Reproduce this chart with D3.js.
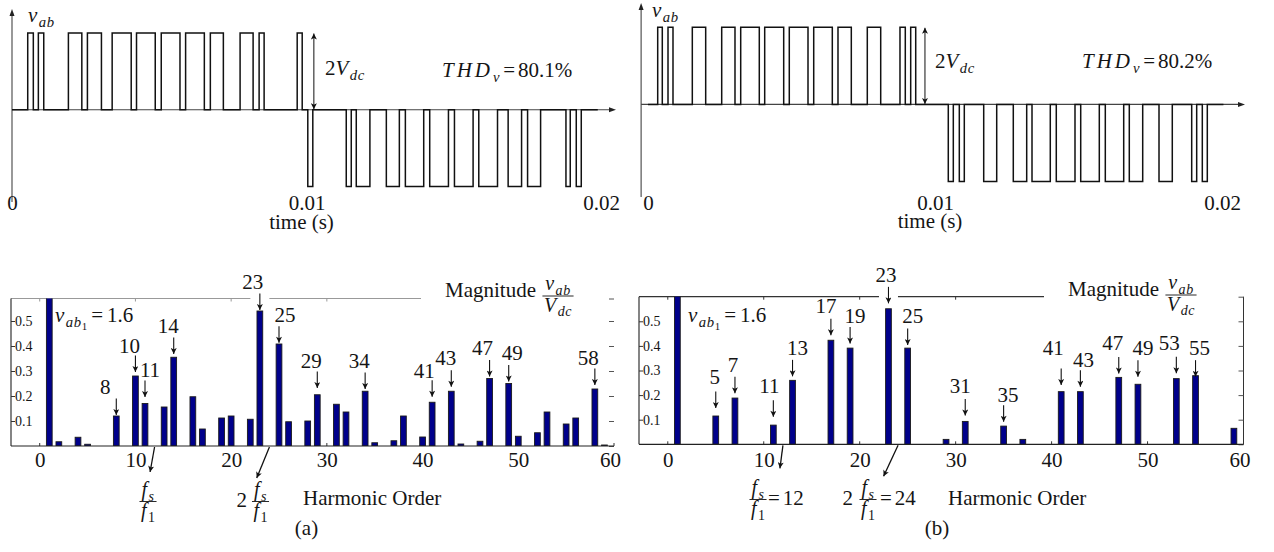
<!DOCTYPE html>
<html>
<head>
<meta charset="utf-8">
<script src="https://d3js.org/d3.v7.min.js"></script>
<style>
  body { margin: 0; background: #fff; }
  svg { display: block; }
</style>
</head>
<body>
<svg width="1274" height="552"></svg>
<script>
// ---- waveform pulses, edges in ms ----
const posA = [[0.534,0.724],[0.895,1.078],[1.915,2.371],[2.561,3.037],[3.401,4.048],[4.228,4.864],
              [5.068,5.704],[5.895,6.531],[6.735,7.177],[7.745,8.187],[8.391,8.561],[9.684,9.854]];
const negA = [[10.044,10.214],[11.350,11.520],[11.690,12.153],[12.711,13.153],[13.357,13.980],[14.184,14.820],
              [15.024,15.657],[15.850,16.486],[16.847,17.303],[17.507,17.949],[18.810,18.956],[19.160,19.330]];
const posB = [[0.338,0.498],[0.697,0.871],[1.544,2.010],[2.568,3.031],[3.230,3.878],[4.066,4.728],
              [4.923,5.575],[5.774,6.422],[6.620,7.084],[7.641,8.108],[8.780,8.965],[9.153,9.328]];
const negB = [[10.463,10.638],[10.847,11.021],[11.697,12.150],[12.728,13.195],[13.380,14.017],[14.226,14.878],
              [15.077,15.725],[15.934,16.575],[16.770,17.237],[17.805,18.268],[18.944,19.118],[19.314,19.488]];
const timeTicks = [0, 0.01, 0.02];

// ---- harmonic spectra ----
const ordA = [1,2,4,5,8,10,11,13,14,16,17,19,20,22,23,25,26,28,29,31,32,34,35,37,38,40,41,43,44,46,47,49,50,52,53,55,56,58,59];
const magA = [1.6,0.017,0.035,0.007,0.12,0.28,0.17,0.156,0.355,0.197,0.068,0.112,0.12,0.107,0.54,0.408,0.097,0.1,0.205,0.167,
              0.136,0.219,0.013,0.021,0.12,0.036,0.175,0.219,0.008,0.019,0.27,0.25,0.039,0.053,0.136,0.088,0.112,0.228,0.004];
const ordB = [1,5,7,11,13,17,19,23,25,29,31,35,37,41,43,47,49,53,55,59];
const magB = [1.6,0.115,0.188,0.078,0.26,0.423,0.391,0.551,0.391,0.02,0.093,0.074,0.02,0.214,0.214,0.272,0.244,0.267,0.279,0.065];
const annA = [8,10,11,14,23,25,29,34,41,43,47,49,58];
const annB = [5,7,11,13,17,19,23,25,31,35,41,43,47,49,53,55];
const yTicks = [0.1,0.2,0.3,0.4,0.5];
const xTicks = [0,10,20,30,40,50,60];

// label nudges [dx, gap above bar, lift above arrow]
const nudgeA = {8:[-11,1,5],10:[-6,4,2.5],11:[5,6.5,3.3],14:[-5.5,3.3,4.2],23:[-7,1,5],25:[6,1.3,4.5],29:[-6,6.7,3.5],
                34:[-6,2.3,4.5],41:[-8,5.6,2.2],43:[-5.5,4.6,5.2],47:[-7,2,5.2],49:[3.5,2,5.2],58:[-6.5,4,3.5]};
const nudgeB = {5:[-1,8,8],7:[-2,4.7,5],11:[-4,8.3,7],13:[5,4,4.5],17:[-5,5,5.5],19:[5,4.7,3.8],23:[-2.5,5.4,5],
                25:[5,3,5.5],31:[-5,6,5.5],35:[4.5,4.3,3.5],41:[-8,6.7,13],43:[3,5,3.5],47:[-6,4,6.8],49:[5,7.6,5.2],
                53:[-7,5.4,6.8],55:[4,-1,5.2]};

const SERIF = '"Liberation Serif", serif';
const svg = d3.select('svg').style('font-family', SERIF);
const defs = svg.append('defs');
defs.append('marker').attr('id','ah').attr('viewBox','0 0 10 10').attr('refX',10).attr('refY',5)
  .attr('markerWidth',7).attr('markerHeight',6).attr('markerUnits','userSpaceOnUse')
  .attr('orient','auto-start-reverse')
  .append('path').attr('d','M0,0 L10,5 L0,10 L2.5,5 z').attr('fill','#111');

// text with sub/subsub scripts: parts = [text, italic, level, gap before]
function mtext(p, x, y, parts, size, anchor, spacing) {
  const t = p.append('text').attr('x', x).attr('y', y)
    .style('font-family', SERIF).style('font-size', size + 'px').attr('fill', '#151515')
    .attr('text-anchor', anchor || 'start');
  let cur = 0;
  parts.forEach(([s, it, lv, gap]) => {
    lv = lv || 0;
    const sh = [0, 0.24, 0.4][lv] * size;
    t.append('tspan').text(s).attr('dy', sh - cur).attr('dx', gap || 0)
      .style('font-size', [1, 0.7, 0.52][lv] * size + 'px')
      .style('font-style', it ? 'italic' : 'normal')
      .attr('letter-spacing', it ? (lv === 0 ? (spacing || 1.5) : 0.6) : 0);
    cur = sh;
  });
  return t;
}

function label(p, x, y, s, anchor) {
  return p.append('text').attr('x', x).attr('y', y).style('font-size', '21px').style('font-family', SERIF)
    .attr('fill', '#151515').attr('text-anchor', anchor || 'start').text(s);
}

function frac(p, cx, yl, num, den, size) {
  const a = mtext(p, cx, yl - 0.28 * size, num, size, 'middle');
  const b = mtext(p, cx, yl + 0.78 * size, den, size, 'middle');
  const w = Math.max(a.node().getComputedTextLength(), b.node().getComputedTextLength()) + 3;
  p.append('line').attr('x1', cx - w / 2).attr('x2', cx + w / 2).attr('y1', yl).attr('y2', yl)
    .attr('stroke', '#111').attr('stroke-width', 0.9);
}

function styleAxis(a, size) {
  a.select('.domain').remove();
  a.attr('font-family', null).attr('font-size', null);
  a.selectAll('text').style('font-family', SERIF).style('font-size', size + 'px').attr('fill', '#151515');
}

function wavePanel(c) {
  const x = d3.scaleLinear().domain([0, 0.02]).range(c.xr);
  const y = d3.scaleLinear().domain([-1, 1]).range(c.yr);
  const g = svg.append('g');
  const ax = x(c.axisT), y0 = y(0);

  g.append('line').attr('x1', ax).attr('x2', ax).attr('y1', c.axBottom).attr('y2', c.axTop + 5)
    .attr('stroke', '#444').attr('stroke-width', 1.1);
  g.append('path').attr('d', `M${ax-2.5},${c.axTop+7}L${ax},${c.axTop}L${ax+2.5},${c.axTop+7}Z`).attr('fill', '#222');
  g.append('line').attr('x1', ax).attr('x2', c.axRight - 5).attr('y1', y0).attr('y2', y0)
    .attr('stroke', '#444').attr('stroke-width', 1.1);
  g.append('path').attr('d', `M${c.axRight-7},${y0-2.5}L${c.axRight},${y0}L${c.axRight-7},${y0+2.5}Z`).attr('fill', '#222');

  const pts = [[0, 0]];
  c.pos.forEach(([a, b]) => pts.push([a, 0], [a, 1], [b, 1], [b, 0]));
  c.neg.forEach(([a, b]) => pts.push([a, 0], [a, -1], [b, -1], [b, 0]));
  pts.push([c.tEnd, 0]);
  const line = d3.line().x(d => x(d[0] / 1000)).y(d => y(d[1]));
  g.append('path').attr('d', line(pts)).attr('fill', 'none').attr('stroke', '#111')
    .attr('stroke-width', 1.5).attr('stroke-linejoin', 'miter');

  const ta = g.append('g').attr('transform', `translate(0,${c.tickY})`)
    .call(d3.axisBottom(x).tickValues(timeTicks).tickSize(0).tickPadding(0).tickFormat(d => String(d)));
  styleAxis(ta, 21);
  ta.selectAll('text').attr('dy', 0);
  label(g, x(0.01) - 5, c.timeY, 'time (s)', 'middle');

  mtext(g, c.vab[0], c.vab[1], [['v', true], ['ab', true, 1]], 21);
  const xa = x(c.arrowT / 1000);
  g.append('line').attr('x1', xa).attr('x2', xa).attr('y1', y(1) + 0.5).attr('y2', y0 - 0.5)
    .attr('stroke', '#111').attr('stroke-width', 1)
    .attr('marker-start', 'url(#ah)').attr('marker-end', 'url(#ah)');
  mtext(g, c.vdc[0], c.vdc[1], [['2', false], ['V', true], ['dc', true, 1]], 21);
  mtext(g, c.thd[0], c.thd[1],
    [['THD', true], ['v', true, 1], ['=', false, 0, 3], [c.thd[2], false, 0, 3]], 21, 'start', 3);
}

function specPanel(c) {
  const x = d3.scaleLinear().domain([-3, 60]).range(c.xr);
  const y = d3.scaleLinear().domain([0, c.ymax]).range(c.yr);
  const g = svg.append('g');
  const x0 = c.xr[0], x1 = c.xr[1], yb = c.yr[0], yt = c.yr[1];
  const mag = {};
  c.ord.forEach((h, i) => mag[h] = c.mag[i]);

  g.append('clipPath').attr('id', c.id).append('rect')
    .attr('x', x0).attr('y', yt).attr('width', x1 - x0).attr('height', yb - yt);

  // frame
  const topEnd = c.magX - 24;
  g.append('line').attr('x1', x0).attr('x2', topEnd).attr('y1', yt).attr('y2', yt)
    .attr('stroke', c.topColor).attr('stroke-width', 1.2);
  g.selectAll('.tt').data(xTicks.filter(v => x(v) < topEnd)).join('line')
    .attr('x1', d => x(d)).attr('x2', d => x(d)).attr('y1', yt).attr('y2', yt + 3)
    .attr('stroke', c.topColor);
  g.append('line').attr('x1', x0).attr('x2', x0).attr('y1', yt).attr('y2', yb)
    .attr('stroke', '#333').attr('stroke-width', 1.2);
  if (c.rightLine) {
    g.append('line').attr('x1', x1).attr('x2', x1).attr('y1', yt).attr('y2', yb).attr('stroke', '#333');
  }
  const ra = g.append('g').attr('transform', `translate(${x1},0)`)
    .call(d3.axisLeft(y).tickValues([0, ...yTicks, c.ymax]).tickSize(5).tickFormat(''));
  ra.select('.domain').remove();
  ra.selectAll('line').attr('stroke', '#555');

  const la = g.append('g').attr('transform', `translate(${x0},0)`)
    .call(d3.axisRight(y).tickValues(yTicks).tickSize(4).tickPadding(0).tickFormat(d3.format('.1f')));
  styleAxis(la, 14);
  la.selectAll('line').attr('stroke', '#333');

  // bottom axis
  const ba = g.append('g').attr('transform', `translate(0,${yb})`)
    .call(d3.axisBottom(x).tickValues(xTicks).tickSize(0).tickPadding(c.xPad).tickFormat(d3.format('d')));
  styleAxis(ba, 21);
  ba.selectAll('text').attr('dx', d => d === 60 ? -4 : 0);
  g.selectAll('.bt').data(xTicks).join('line')
    .attr('x1', d => x(d)).attr('x2', d => x(d)).attr('y1', yb).attr('y2', yb - 3).attr('stroke', '#333');

  // bars
  const bw = x(0.6) - x(0);
  g.append('g').attr('clip-path', `url(#${c.id})`).selectAll('rect').data(c.ord).join('rect')
    .attr('x', d => x(d) - bw / 2).attr('y', (d, i) => y(c.mag[i]))
    .attr('width', bw).attr('height', (d, i) => yb - y(c.mag[i]))
    .attr('fill', '#00008b').attr('stroke', '#1a1a1a').attr('stroke-width', 0.9);
  g.append('line').attr('x1', x0).attr('x2', x1).attr('y1', yb).attr('y2', yb)
    .attr('stroke', '#222').attr('stroke-width', 1.2);

  // harmonic annotations
  c.ann.forEach(h => {
    const [dx, gap, lift] = c.nudge[h];
    const yEnd = y(mag[h]) - gap, yTop = yEnd - 16.5;
    if (yTop - 4 < yt && yEnd > yt) {
      g.append('rect').attr('x', x(h) - 9.5).attr('y', yt - 2).attr('width', 19).attr('height', 4).attr('fill', '#fff');
    }
    g.append('line').attr('x1', x(h)).attr('x2', x(h)).attr('y1', yTop).attr('y2', yEnd)
      .attr('stroke', '#111').attr('stroke-width', 1.1).attr('marker-end', 'url(#ah)');
    label(g, x(h) + dx, yTop - lift, h, 'middle');
  });

  // fundamental label
  mtext(g, c.v1[0], c.v1[1],
    [['v', true], ['ab', true, 1], ['1', false, 2], ['=', false, 0, 4], ['1.6', false, 0, 4]], 21);

  // magnitude label
  label(g, c.magX, c.magY, 'Magnitude');
  frac(g, c.fracX, c.magY - 1, [['v', true], ['ab', true, 1]], [['V', true], ['dc', true, 1]], 20);

  // switching frequency arrows
  c.fs.forEach(([h, ex, ey]) => {
    g.append('line').attr('x1', x(h)).attr('y1', yb + 1).attr('x2', x(h) + ex).attr('y2', yb + ey)
      .attr('stroke', '#111').attr('stroke-width', 1.3).attr('marker-end', 'url(#ah)');
  });
  return {x, g};
}

// ---- top waveforms ----
wavePanel({pos: posA, neg: negA, tEnd: 19.89, xr: [12, 601], yr: [186.5, 33], axisT: 0,
  axTop: 9, axBottom: 202, axRight: 616, arrowT: 10.25, tickY: 210, timeY: 229,
  vab: [28, 21.5], vdc: [325, 75], thd: [442, 77, '80.1%']});
wavePanel({pos: posB, neg: negB, tEnd: 20.05, xr: [648, 1222], yr: [181.5, 27.3], axisT: -0.00024,
  axTop: 3, axBottom: 197, axRight: 1245, arrowT: 9.65, tickY: 210, timeY: 228,
  vab: [652, 17], vdc: [935, 68], thd: [1082, 68, '80.2%']});

// ---- bottom spectra ----
const A = specPanel({id: 'clipA', ord: ordA, mag: magA, ann: annA, nudge: nudgeA, ymax: 0.59,
  xr: [11, 614], yr: [446, 298.5], topColor: '#999', rightLine: false, xPad: 6,
  magX: 445, magY: 297, fracX: 558, v1: [55, 322], fs: [[12, -4.5, 26], [24, -12.7, 32]]});
const B = specPanel({id: 'clipB', ord: ordB, mag: magB, ann: annB, nudge: nudgeB, ymax: 0.6,
  xr: [639, 1243.5], yr: [444.3, 296.7], topColor: '#333', rightLine: true, xPad: 7.5,
  magX: 1068, magY: 296, fracX: 1181, v1: [688, 322], fs: [[12, -3, 24], [24, -14.5, 32]]});

// fraction labels under the axes
const FS = [['f', true], ['s', true, 1]], F1 = [['f', true], ['1', false, 1]];
frac(A.g, 148, 501.5, FS, F1, 20);
label(A.g, 247, 507, '2', 'end');
frac(A.g, 260.5, 501.5, FS, F1, 20);
frac(B.g, 758, 499.5, FS, F1, 20);
mtext(B.g, 768, 505, [['=', false], ['12', false, 0, 3]], 21);
label(B.g, 853, 505, '2', 'end');
frac(B.g, 868, 499.5, FS, F1, 20);
mtext(B.g, 880, 505, [['=', false], ['24', false, 0, 3]], 21);

label(svg, 303, 505, 'Harmonic Order');
label(svg, 948, 505, 'Harmonic Order');
label(svg, 306.5, 535, '(a)', 'middle');
label(svg, 937, 535, '(b)', 'middle');
</script>
</body>
</html>
